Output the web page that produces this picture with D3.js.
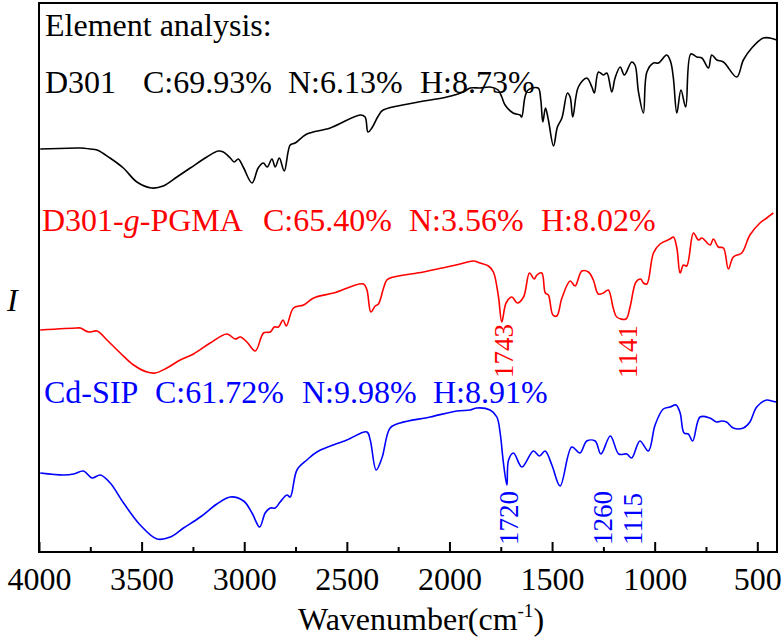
<!DOCTYPE html>
<html><head><meta charset="utf-8">
<script src="https://cdn.jsdelivr.net/npm/d3@7"></script>
<style>
body{margin:0;background:#fff;}
svg text{font-family:"Liberation Serif",Tinos,"Times New Roman",Times,"DejaVu Serif",serif !important;}
</style></head>
<body><svg id="c" width="782" height="644"></svg>
<script>
// wavenumber (cm-1), intensity (arbitrary units)
const d301Wn = [3994,3815,3799,3750,3717,3654,3589,3523,3450,3395,3328,3263,3182,3127,3102,3068,3049,3029,3005,2962,2932,2907,2888,2865,2849,2829,2805,2776,2752,2695,2581,2435,2411,2397,2378,2347,2323,2177,2013,1933,1899,1851,1802,1763,1745,1729,1690,1656,1648,1632,1617,1568,1555,1545,1532,1518,1493,1474,1452,1425,1412,1399,1372,1331,1306,1294,1274,1250,1233,1209,1193,1168,1148,1112,1096,1079,1055,1038,1006,982,941,922,909,892,872,849,824,795,770,738,722,697,665,600,568,527,471,438,405];
const d301I  = [403,404,404,403,402,394,384,370,364,366,375,384,395,401,400,394,390,393,385,369,384,389,385,393,385,394,381,407,409,418,424,437,435,420,424,436,442,449,455,460,464,464,465,462,455,447,439,437,435,455,462,464,452,430,444,432,406,425,434,459,455,435,465,474,465,459,480,477,479,460,474,485,477,490,487,460,439,480,489,489,497,490,474,439,462,445,498,495,494,484,497,492,490,475,492,504,514,514,512];

const pgmaWn = [3994,3815,3799,3758,3717,3669,3604,3539,3474,3434,3377,3312,3247,3166,3084,3044,3019,2987,2946,2906,2873,2854,2833,2811,2795,2760,2711,2662,2565,2419,2402,2383,2362,2346,2321,2305,2273,2127,2013,1948,1883,1851,1810,1786,1761,1745,1724,1696,1669,1639,1610,1587,1574,1550,1533,1518,1496,1477,1452,1412,1388,1355,1323,1299,1275,1250,1226,1202,1185,1140,1120,1091,1068,1055,1038,1006,974,925,909,892,876,860,844,811,787,770,730,714,690,665,641,617,576,536,487,454,422];
const pgmaI  = [222,224,224,220,221,212,199,187,180,179,184,192,198,209,218,213,215,210,201,219,220,225,225,232,226,244,247,254,259,268,262,240,246,248,264,272,275,280,285,288,291,289,286,280,255,230,249,255,249,255,279,273,277,279,259,257,237,236,254,271,266,281,280,272,258,259,262,244,235,233,245,270,273,269,268,299,308,313,315,304,279,287,286,319,312,314,307,313,305,304,283,295,299,317,329,334,339];

const sipWn = [3994,3880,3831,3783,3742,3701,3653,3588,3507,3425,3360,3296,3214,3133,3068,3003,2962,2925,2898,2873,2849,2825,2792,2776,2743,2695,2646,2500,2402,2386,2357,2329,2289,2240,2094,1964,1899,1867,1802,1769,1753,1737,1720,1712,1688,1647,1591,1562,1534,1501,1461,1404,1364,1331,1290,1262,1216,1175,1136,1112,1072,1031,998,958,925,896,876,857,836,815,779,731,698,674,650,617,568,536,503,454,430,405];
const sipI  = [79,77,78,81,74,77,69,49,27,13,15,24,35,48,55,51,39,25,39,44,44,50,57,55,82,92,100,112,120,112,82,94,124,129,135,141,142,144,142,135,119,89,67,92,99,85,101,96,101,87,66,105,99,111,111,98,116,98,98,94,111,101,127,143,145,147,139,119,118,111,135,134,130,131,130,124,124,130,145,152,151,150];

const majorTicks = [4000,3500,3000,2500,2000,1500,1000,500];
const minorTicks = [3750,3250,2750,2250,1750,1250,750];

const headerTitle = "Element analysis:";
const d301Label = ["D301","C:69.93%","N:6.13%","H:8.73%"];
const pgmaLabel = ["D301-g-PGMA","C:65.40%","N:3.56%","H:8.02%"];
const sipLabel  = ["Cd-SIP","C:61.72%","N:9.98%","H:8.91%"];

const pgmaPeaks = [1743,1141];
const sipPeaks  = [1720,1260,1115];

const FONT = '"Liberation Serif",Tinos,"Times New Roman",Times,"DejaVu Serif",serif';
const svg = d3.select("#c");
const L=39, R=777, T=3, B=552;
const x = d3.scaleLinear().domain([4000,404]).range([L,R]);
const y = d3.scaleLinear().domain([0,549]).range([B,T]);

const line = d3.line().x(d=>x(d[0])).y(d=>y(d[1])).curve(d3.curveCatmullRom.alpha(0.5));
const series = [
  {wn:d301Wn, I:d301I, color:"#000000"},
  {wn:pgmaWn, I:pgmaI, color:"#ff0000"},
  {wn:sipWn, I:sipI, color:"#0000ff"}
];
series.forEach(s=>{
  svg.append("path").attr("d", line(s.wn.map((w,i)=>[w,s.I[i]])))
    .attr("fill","none").attr("stroke",s.color).attr("stroke-width",1.6).attr("stroke-linejoin","round");
});

// axes
const gx = svg.append("g").attr("transform",`translate(0,${B})`)
  .call(d3.axisBottom(x).tickValues(majorTicks).tickSizeInner(-10).tickSizeOuter(0).tickPadding(0).tickFormat(d3.format("d")));
gx.attr("font-family",FONT);
gx.select(".domain").remove();
gx.selectAll(".tick line").attr("stroke","#000").attr("stroke-width",2);
gx.selectAll(".tick text").attr("font-size",32).attr("fill","#000").attr("dy",null).attr("y",38)
  .attr("font-family",FONT);
const gm = svg.append("g").attr("transform",`translate(0,${B})`)
  .call(d3.axisBottom(x).tickValues(minorTicks).tickSizeInner(-5).tickSizeOuter(0).tickFormat(""));
gm.select(".domain").remove();
gm.selectAll(".tick line").attr("stroke","#000").attr("stroke-width",2);

svg.append("rect").attr("x",L).attr("y",T).attr("width",R-L).attr("height",B-T)
  .attr("fill","none").attr("stroke","#000").attr("stroke-width",2);

function txt(){ return svg.append("text").attr("font-family",FONT); }

// axis titles
const xt = txt().attr("x",298).attr("y",630).attr("font-size",32).attr("fill","#000");
xt.append("tspan").text("Wavenumber(cm");
xt.append("tspan").attr("font-size",19).attr("dy",-13).text("-1");
xt.append("tspan").attr("dy",13).text(")");
txt().attr("x",7).attr("y",311).attr("font-size",32).attr("font-style","italic").text("I");

// element analysis labels
txt().attr("x",45).attr("y",36).attr("font-size",32).attr("fill","#000").text(headerTitle);
function labelRow(parts, xs, yb, color){
  parts.forEach((p,i)=>{
    const t = txt().attr("x",xs[i]).attr("y",yb).attr("font-size",32).attr("fill",color);
    if(p.includes("-g-")){
      const q = p.split("-g-");
      t.append("tspan").text(q[0]+"-");
      t.append("tspan").attr("font-style","italic").text("g");
      t.append("tspan").text("-"+q[1]);
    } else t.text(p);
  });
}
labelRow(d301Label,[45,143,288,420],93,"#000000");
labelRow(pgmaLabel,[42,263,409,541],231,"#ff0000");
labelRow(sipLabel,[44,155,302,433],403,"#0000ff");

// peak annotations
function peaks(list, yStart, color){
  list.forEach(p=>{
    txt().attr("transform",`translate(${x(p)+11},${yStart}) rotate(-90)`)
      .attr("font-size",27).attr("fill",color).text(String(p));
  });
}
peaks(pgmaPeaks,378,"#ff0000");
peaks(sipPeaks,545,"#0000ff");
</script></body></html>
